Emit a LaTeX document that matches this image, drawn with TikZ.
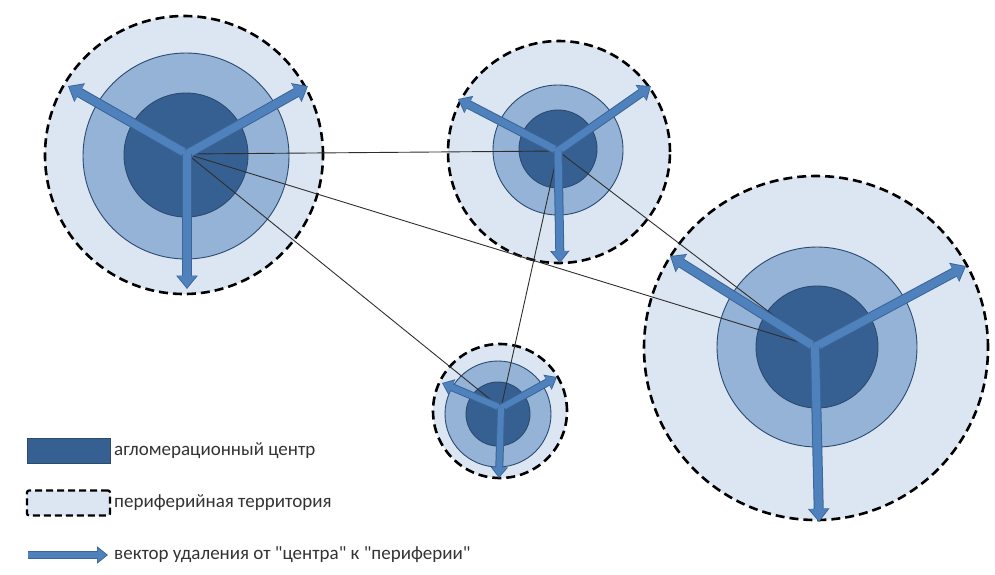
\documentclass[tikz,border=0pt]{standalone}
\usepackage{fontspec}
\setmainfont{Carlito}[Ligatures=TeXOff]
\usetikzlibrary{arrows.meta}
\definecolor{outerfill}{HTML}{DCE6F2}
\definecolor{midfill}{HTML}{95B3D7}
\definecolor{innerfill}{HTML}{366092}
\definecolor{ringline}{HTML}{2B4A6F}
\definecolor{vecfill}{HTML}{4F81BD}
\definecolor{vecedge}{HTML}{3A6596}
\definecolor{txt}{HTML}{333333}
\tikzset{
  outer/.style={circle, draw=black, line width=2.6pt, dash pattern=on 9pt off 5pt, fill=outerfill, inner sep=0pt},
  mid/.style={circle, draw=ringline, line width=0.9pt, fill=midfill, inner sep=0pt},
  inner/.style={circle, draw=ringline, line width=0.9pt, fill=innerfill, inner sep=0pt},
  link/.style={draw=txt!90!black, line width=0.9pt},
  vecA/.style={draw=vecedge, line width=#1+2pt, -{Triangle[width=2.1*#1+4pt, length=1.3*#1+3pt]}},
  vecB/.style={draw=vecfill, line width=#1, -{Triangle[width=2.1*#1+1pt, length=1.3*#1+1.5pt]}, shorten >=1.2pt},
  legtext/.style={anchor=west, text=txt, font=\fontsize{19}{22}\selectfont, inner sep=0pt}
}
\newcommand{\vecarrow}[3]{\draw[vecA=#3] (#1) -- (#2); \draw[vecB=#3] (#1) -- (#2);}
\begin{document}
\begin{tikzpicture}[x=1pt,y=-1pt]
\useasboundingbox (0,0) rectangle (995,574);
% centres
\coordinate (c1) at (187,154);
\coordinate (c2) at (558,151);
\coordinate (c3) at (501,408);
\coordinate (c4) at (815,347);
% rings
\node[outer, minimum size=278pt] (o1) at (184,155) {};
\node[mid, minimum size=206pt] (m1) at (186,156) {};
\node[inner, minimum size=124pt] (i1) at (186,155) {};
\node[outer, minimum size=222pt] (o2) at (559,152) {};
\node[mid, minimum size=130pt] (m2) at (558,150) {};
\node[inner, minimum size=78pt] (i2) at (558,149) {};
\node[outer, minimum size=134pt] (o3) at (500,411) {};
\node[mid, minimum size=106pt] (m3) at (498,414) {};
\node[inner, minimum size=64pt] (i3) at (498,414) {};
\node[outer, minimum size=344pt] (o4) at (816,348) {};
\node[mid, minimum size=200pt] (m4) at (817,347) {};
\node[inner, minimum size=122pt] (i4) at (817,347) {};
% links
\draw[link] (c1) -- (c2);
\draw[link] (c1) -- (c4);
\draw[link] (c1) -- (c3);
\draw[link] (c2) -- (c3);
\draw[link] (c2) -- (c4);
% vector ends
\coordinate (e1a) at (68,86);   \coordinate (e1b) at (308,86);  \coordinate (e1c) at (187,289);
\coordinate (e2a) at (458,99);  \coordinate (e2b) at (651,86);  \coordinate (e2c) at (560,263);
\coordinate (e3a) at (442,383); \coordinate (e3b) at (557,377); \coordinate (e3c) at (499,478);
\coordinate (e4a) at (670,256); \coordinate (e4b) at (966,266); \coordinate (e4c) at (819,522);
\vecarrow{c1}{e1a}{8pt}\vecarrow{c1}{e1b}{8pt}\vecarrow{c1}{e1c}{8pt}
\vecarrow{c2}{e2a}{7pt}\vecarrow{c2}{e2b}{7pt}\vecarrow{c2}{e2c}{7pt}
\vecarrow{c3}{e3a}{6pt}\vecarrow{c3}{e3b}{6pt}\vecarrow{c3}{e3c}{6pt}
\vecarrow{c4}{e4a}{8pt}\vecarrow{c4}{e4b}{8pt}\vecarrow{c4}{e4c}{8pt}
% legend
\node[draw=ringline, line width=0.6pt, fill=innerfill, minimum width=83pt, minimum height=25pt, inner sep=0pt] (k1) at (68.5,450.5) {};
\node[legtext] (t1) at (114,451) {агломерационный центр};
\node[draw=black, line width=2.2pt, dash pattern=on 7pt off 4pt, fill=outerfill, rounded corners=2pt, minimum width=83pt, minimum height=25pt, inner sep=0pt] (k2) at (68.5,503) {};
\node[legtext] (t2) at (114,503) {периферийная территория};
\coordinate (la1) at (28,555);
\coordinate (la2) at (108,555);
\vecarrow{la1}{la2}{6pt}
\node[legtext] (t3) at (114,555) {вектор удаления от "центра" к "периферии"};
\end{tikzpicture}
\end{document}
